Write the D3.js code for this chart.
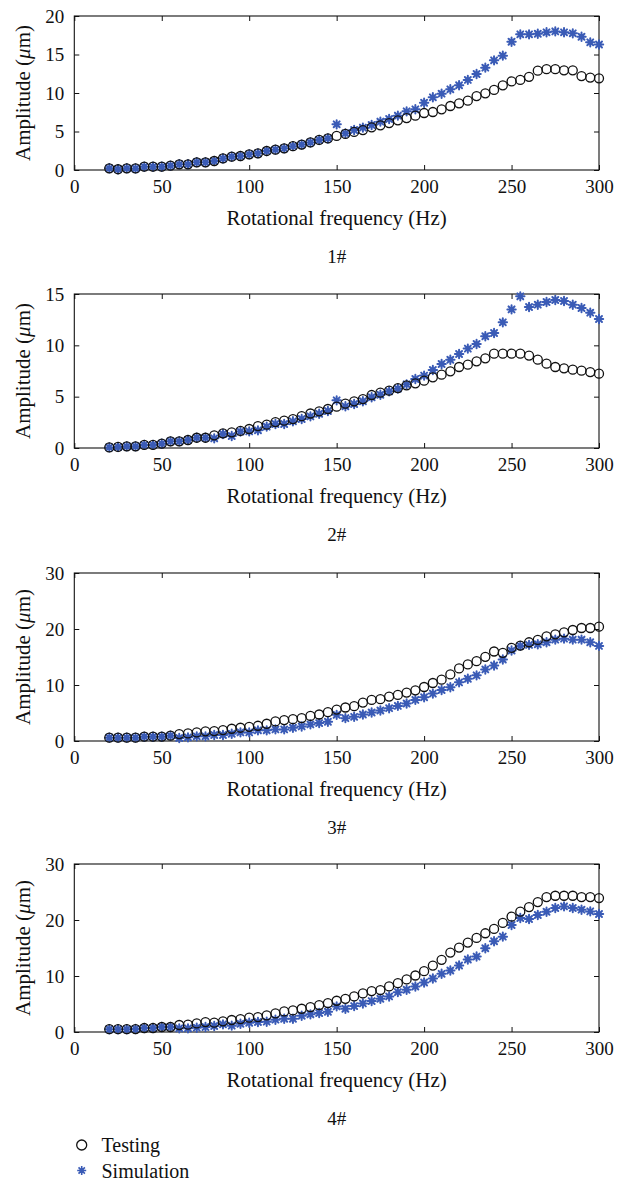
<!DOCTYPE html>
<html>
<head>
<meta charset="utf-8">
<script src="https://cdn.jsdelivr.net/npm/d3@7"></script>
<style>
	body { margin: 0; background: #fff; }
	svg { display: block; }
	svg text { font-family: 'Liberation Serif', 'DejaVu Serif', serif; fill: #111; }
</style>
</head>
<body>
<script>
'use strict';

// rotational frequency (Hz), shared by all four panels
const freq = [20, 25, 30, 35, 40, 45, 50, 55, 60, 65, 70, 75, 80, 85, 90, 95, 100,
	105, 110, 115, 120, 125, 130, 135, 140, 145, 150, 155, 160, 165, 170, 175, 180,
	185, 190, 195, 200, 205, 210, 215, 220, 225, 230, 235, 240, 245, 250, 255, 260,
	265, 270, 275, 280, 285, 290, 295, 300];

// 1#
const test1 = [0.22, 0.1, 0.22, 0.2, 0.43, 0.43, 0.43, 0.56, 0.74, 0.74, 1.0, 1.0, 1.17,
	1.5, 1.73, 1.82, 2.03, 2.16, 2.47, 2.64, 2.81, 3.1, 3.3, 3.58, 3.9, 4.1,
	4.42, 4.68, 4.94, 5.19, 5.54, 5.8, 6.1, 6.45, 6.75, 7.06, 7.4, 7.53, 7.88, 8.31,
	8.66, 9.0, 9.6, 9.96, 10.4, 11.0, 11.5, 11.7, 12.1, 12.9, 13.1, 13.1, 12.95, 12.95,
	12.2, 12.0, 11.9];
const sim1 = [0.22, 0.1, 0.22, 0.2, 0.43, 0.43, 0.43, 0.56, 0.74, 0.74, 1.0, 1.0, 1.17,
	1.5, 1.73, 1.82, 2.03, 2.16, 2.47, 2.64, 2.81, 3.1, 3.3, 3.58, 3.9, 4.1,
	5.93, 4.76, 5.19, 5.5, 5.84, 6.28, 6.62, 7.06, 7.62, 7.88, 8.74, 9.44, 9.91, 10.48,
	11.0, 11.7, 12.47, 13.29, 14.24, 14.85, 16.66, 17.62, 17.62, 17.7, 17.88, 18.0, 17.88,
	17.75, 17.3, 16.58, 16.3];

// 2#
const test2 = [0.06, 0.1, 0.16, 0.16, 0.3, 0.3, 0.42, 0.65, 0.65, 0.78, 1.0, 1.0, 1.23,
	1.43, 1.53, 1.66, 1.85, 2.14, 2.27, 2.53, 2.66, 2.82, 3.1, 3.36, 3.57, 3.8, 4.03,
	4.32, 4.55, 4.77, 5.16, 5.39, 5.58, 5.84, 6.1, 6.3, 6.56, 6.88, 7.14, 7.47, 7.89,
	8.12, 8.44, 8.73, 9.19, 9.19, 9.19, 9.19, 9.0, 8.6, 8.21, 7.89, 7.76, 7.63, 7.53,
	7.4, 7.24];
const sim2 = [0.06, 0.1, 0.16, 0.16, 0.3, 0.3, 0.42, 0.65, 0.65, 0.78, 1.0, 1.0, 0.94,
	1.36, 1.17, 1.6, 1.62, 1.72, 2.08, 2.34, 2.34, 2.6, 2.82, 3.08, 3.34, 3.6, 4.64,
	4.06, 4.29, 4.55, 4.94, 5.19, 5.52, 5.78, 6.2, 6.72, 7.05, 7.6, 8.18, 8.6, 9.16,
	9.68, 10.13, 10.88, 11.2, 12.24, 13.5, 14.77, 13.73, 13.96, 14.22, 14.42, 14.32,
	13.96, 13.64, 13.18, 12.56];

// 3#
const test3 = [0.6, 0.6, 0.6, 0.6, 0.77, 0.77, 0.77, 0.95, 1.24, 1.36, 1.54, 1.72, 1.78,
	1.95, 2.19, 2.37, 2.54, 2.72, 3.08, 3.49, 3.73, 3.9, 4.1, 4.47, 4.73, 5.15, 5.62,
	5.98, 6.21, 6.86, 7.34, 7.46, 7.93, 8.22, 8.64, 9.05, 9.64, 10.36, 10.95, 11.89,
	12.96, 13.67, 14.26, 15.03, 15.98, 15.74, 16.63, 17.04, 17.63, 18.05, 18.7, 19.05,
	19.4, 19.82, 20.18, 20.18, 20.41];
const sim3 = [0.6, 0.6, 0.6, 0.6, 0.77, 0.77, 0.77, 0.95, 0.53, 0.65, 0.83, 0.83, 1.07,
	1.07, 1.3, 1.54, 1.54, 1.9, 1.9, 2.07, 2.07, 2.37, 2.6, 2.96, 3.2, 3.43, 4.67, 4.08,
	4.32, 4.73, 5.09, 5.44, 5.86, 6.27, 6.69, 7.34, 7.81, 8.46, 9.11, 9.59, 10.47, 11.12,
	11.72, 12.78, 13.49, 14.56, 16.15, 16.98, 17.16, 17.28, 17.63, 18.1, 18.28, 18.1,
	18.1, 17.63, 16.98];

// 4#
const test4 = [0.5, 0.5, 0.5, 0.53, 0.71, 0.71, 0.89, 0.89, 1.25, 1.3, 1.54, 1.78, 1.66,
	1.9, 2.14, 2.31, 2.55, 2.67, 2.97, 3.32, 3.68, 3.86, 4.15, 4.45, 4.8, 5.16, 5.58,
	5.93, 6.35, 6.88, 7.3, 7.48, 8.13, 8.72, 9.38, 10.09, 10.86, 11.87, 12.88, 14.18,
	15.07, 15.96, 16.8, 17.63, 18.4, 19.47, 20.6, 21.48, 22.3, 23.2, 24.1, 24.33, 24.33,
	24.33, 24.1, 24.1, 23.92];
const sim4 = [0.5, 0.5, 0.5, 0.53, 0.71, 0.71, 0.89, 0.89, 0.65, 0.65, 0.77, 0.89, 1.07,
	1.37, 1.13, 1.48, 1.66, 1.78, 1.84, 2.2, 2.37, 2.37, 2.9, 3.15, 3.38, 3.62, 4.57,
	4.15, 4.63, 5.1, 5.52, 5.93, 6.35, 7.12, 7.54, 8.13, 8.84, 9.55, 10.39, 10.98, 11.87,
	12.94, 13.47, 14.96, 16.2, 17.03, 19.11, 20.36, 20.18, 20.89, 21.48, 22.14, 22.43,
	22.14, 21.84, 21.54, 21.07];

const panelNames = ["1#", "2#", "3#", "4#"];
const yMaxes = [20, 15, 30, 30];
const yTickSteps = [5, 5, 10, 10];
const xTicks = [0, 50, 100, 150, 200, 250, 300];
const legendLabels = ["Testing", "Simulation"];

const testSeries = [test1, test2, test3, test4];
const simSeries = [sim1, sim2, sim3, sim4];

const params = {
	width: 625,
	height: 1181,
	left: 74.3,
	right: 599,
	tops: [16, 294, 573, 864],
	heights: [154, 154, 168, 168],
	blue: "#3a5bb6",
	font: "'Liberation Serif', 'DejaVu Serif', serif"
};

const svg = d3.select("body")
	.append("svg")
	.attr("width", params.width)
	.attr("height", params.height);

const xScale = d3.scaleLinear()
	.domain([0, 300])
	.range([params.left, params.right]);

// 8-armed asterisk like the matlab '*' marker
const starPath = (r) => {
	const d = r * Math.SQRT1_2;
	return `M${-r},0L${r},0M0,${-r}L0,${r}M${-d},${-d}L${d},${d}M${-d},${d}L${d},${-d}`;
}

const styleAxis = (g) => {
	g.attr("font-family", params.font).attr("font-size", 19);
	g.select(".domain").remove();
	g.selectAll(".tick line").attr("stroke", "#111").attr("stroke-width", 1);
	g.selectAll("text").attr("fill", "#111");
}

const drawPanel = (i) => {
	const top = params.tops[i];
	const h = params.heights[i];
	const bottom = top + h;

	const yScale = d3.scaleLinear()
		.domain([0, yMaxes[i]])
		.range([bottom, top]);
	const yTicks = d3.range(0, yMaxes[i] + 0.01, yTickSteps[i]);

	const g = svg.append("g").attr("class", "panel").attr("font-family", params.font);

	g.append("g")
		.attr("transform", `translate(0,${bottom})`)
		.call(d3.axisBottom(xScale).tickValues(xTicks).tickSizeInner(-5).tickSizeOuter(0).tickPadding(9.5))
		.call(styleAxis);
	g.append("g")
		.attr("transform", `translate(0,${top})`)
		.call(d3.axisTop(xScale).tickValues(xTicks).tickSizeInner(-5).tickSizeOuter(0).tickFormat(""))
		.call(styleAxis);
	g.append("g")
		.attr("transform", `translate(${params.left},0)`)
		.call(d3.axisLeft(yScale).tickValues(yTicks).tickSizeInner(-5).tickSizeOuter(0).tickPadding(10))
		.call(styleAxis);
	g.append("g")
		.attr("transform", `translate(${params.right},0)`)
		.call(d3.axisRight(yScale).tickValues(yTicks).tickSizeInner(-5).tickSizeOuter(0).tickFormat(""))
		.call(styleAxis);

	g.append("rect")
		.attr("x", params.left)
		.attr("y", top)
		.attr("width", params.right - params.left)
		.attr("height", h)
		.attr("fill", "none")
		.attr("stroke", "#111")
		.attr("stroke-width", 1.1);

	const pts = freq.map((f, k) => ({ f, test: testSeries[i][k], sim: simSeries[i][k] }));

	g.append("g")
		.selectAll("path")
		.data(pts)
		.join("path")
		.attr("transform", d => `translate(${xScale(d.f)},${yScale(d.sim)})`)
		.attr("d", starPath(4.2))
		.attr("stroke", params.blue)
		.attr("stroke-width", 2)
		.attr("stroke-linecap", "round")
		.attr("fill", "none");

	g.append("g")
		.selectAll("circle")
		.data(pts)
		.join("circle")
		.attr("cx", d => xScale(d.f))
		.attr("cy", d => yScale(d.test))
		.attr("r", 4.5)
		.attr("fill", "none")
		.attr("stroke", "#111")
		.attr("stroke-width", 1.3);

	const midX = (params.left + params.right) / 2;
	g.append("text")
		.attr("x", midX)
		.attr("y", bottom + 55)
		.attr("text-anchor", "middle")
		.attr("font-size", 21)
		.text("Rotational frequency (Hz)");

	g.append("text")
		.attr("x", midX)
		.attr("y", bottom + 93)
		.attr("text-anchor", "middle")
		.attr("font-size", 19)
		.text(panelNames[i]);

	const yl = g.append("text")
		.attr("transform", `translate(30,${(top + bottom) / 2}) rotate(-90)`)
		.attr("text-anchor", "middle")
		.attr("font-size", 21);
	yl.append("tspan").text("Amplitude (");
	yl.append("tspan").attr("font-style", "italic").text("\u03bc");
	yl.append("tspan").text("m)");
}

d3.range(4).forEach(drawPanel);

// legend
const legend = svg.append("g").attr("font-family", params.font);
const rows = [
	{ label: legendLabels[0], y: 1145 },
	{ label: legendLabels[1], y: 1170.5 }
];
legend.append("circle")
	.attr("cx", 81.7)
	.attr("cy", rows[0].y)
	.attr("r", 5)
	.attr("fill", "none")
	.attr("stroke", "#111")
	.attr("stroke-width", 1.3);
legend.append("path")
	.attr("transform", `translate(81.7,${rows[1].y})`)
	.attr("d", starPath(4.5))
	.attr("stroke", params.blue)
	.attr("stroke-width", 1.6)
	.attr("fill", "none");
legend.selectAll("text")
	.data(rows)
	.join("text")
	.attr("x", 101.5)
	.attr("y", d => d.y + 7)
	.attr("font-size", 20)
	.text(d => d.label);
</script>
</body>
</html>
